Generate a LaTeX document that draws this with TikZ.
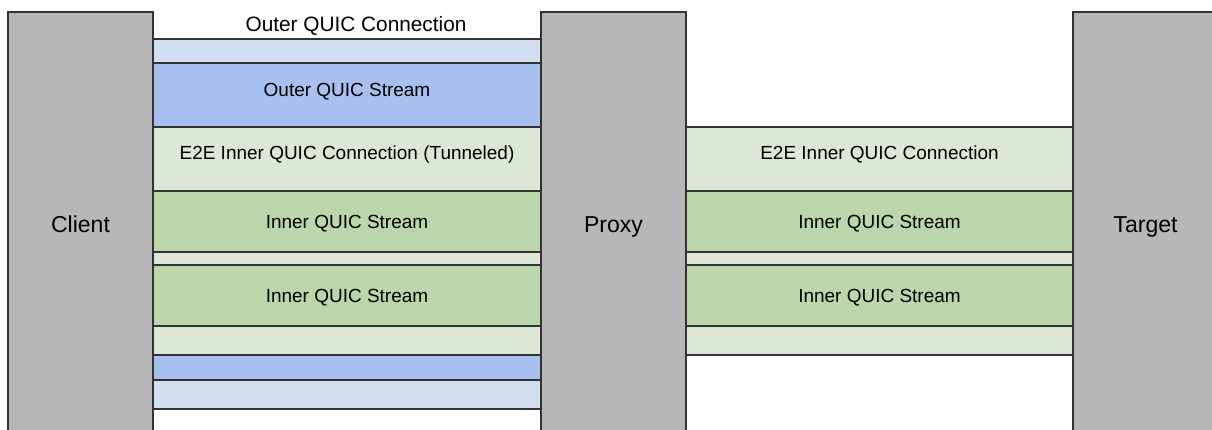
\documentclass[tikz,border=0pt]{standalone}
\usepackage{fontspec}
\setmainfont{Liberation Sans}
\usepackage{tikz}
\usetikzlibrary{positioning, calc}
\definecolor{hostgray}{RGB}{183,183,183}
\definecolor{edgegray}{RGB}{51,51,51}
\definecolor{connblue}{RGB}{210,223,240}
\definecolor{strmblue}{RGB}{167,192,239}
\definecolor{connteal}{RGB}{220,232,213}
\definecolor{strmgreen}{RGB}{187,214,171}
\newcommand{\bandfont}{\fontsize{13.5}{16}\selectfont}
\newcommand{\titlefont}{\fontsize{14.8}{17}\selectfont}
\newcommand{\hostfont}{\fontsize{16.4}{19}\selectfont}
\tikzset{
  host/.style={rectangle, draw=edgegray, fill=hostgray,
    minimum width=3.625cm, minimum height=10.6cm, inner sep=0pt, outer sep=0pt,
    font=\hostfont, text height=11.7pt, text depth=0pt, line width=1pt},
  band/.style={rectangle, draw=edgegray, anchor=north west,
    minimum width=9.7cm, inner sep=0pt, outer sep=0pt, line width=1pt,
    font=\bandfont, text height=9.7pt, text depth=0pt},
  oconn/.style={band, fill=connblue},
  ostream/.style={band, fill=strmblue},
  e2econn/.style={band, fill=connteal},
  istream/.style={band, fill=strmgreen, minimum height=1.525cm},
  txt/.style={font=\bandfont, inner sep=0pt, text height=9.7pt, text depth=0pt}
}
\begin{document}
\begin{tikzpicture}
  \useasboundingbox (0,0) rectangle (30.3,-10.75);

  % Endpoints
  \node[host, anchor=north west] (client) at (0.2,-0.3) {Client};
  \node[host, right=9.7cm of client] (proxy) {Proxy};
  \node[host, right=9.675cm of proxy] (target) {Target};

  % Client <-> Proxy (nested)
  \node[oconn, minimum height=9.25cm] (oconnL) at ($(client.north east)+(0,-0.675)$) {};
  \node[ostream, minimum height=7.925cm] (ostreamL) at ($(oconnL.north west)+(0,-0.6)$) {};
  \node[e2econn, minimum height=5.7cm] (e2eL) at ($(ostreamL.north west)+(0,-1.6)$) {};
  \node[istream] (isL1) at ($(e2eL.north west)+(0,-1.6)$) {Inner QUIC Stream};
  \node[istream, below=0.325cm of isL1] (isL2) {Inner QUIC Stream};

  % Proxy <-> Target
  \node[e2econn, minimum width=9.675cm, minimum height=5.7cm] (e2eR) at ($(proxy.north east)+(0,-2.875)$) {};
  \node[istream, minimum width=9.675cm] (isR1) at ($(e2eR.north west)+(0,-1.6)$) {Inner QUIC Stream};
  \node[istream, minimum width=9.675cm, below=0.325cm of isR1] (isR2) {Inner QUIC Stream};

  % Labels
  \node[txt, font=\titlefont, text height=10.6pt] (oconnT) at ($(oconnL.north)+(0.225,0.375)$) {Outer QUIC Connection};
  \node[txt] (ostreamT) at ($(ostreamL.north)+(0,-0.675)$) {Outer QUIC Stream};
  \node[txt] (e2eLT) at ($(e2eL.north)+(0,-0.64)$) {E2E Inner QUIC Connection (Tunneled)};
  \node[txt] (e2eRT) at ($(e2eR.north)+(0,-0.64)$) {E2E Inner QUIC Connection};
\end{tikzpicture}
\end{document}
